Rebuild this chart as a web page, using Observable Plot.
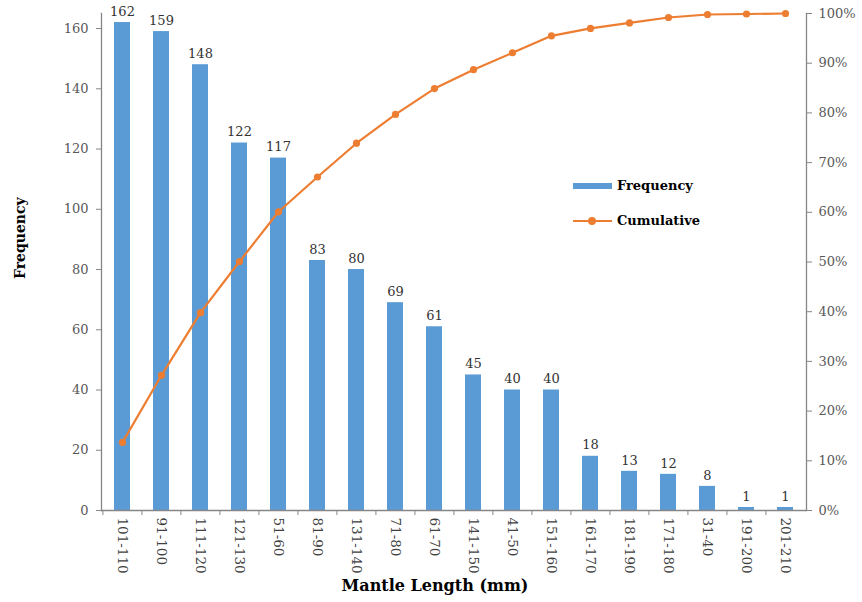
<!DOCTYPE html>
<html><head><meta charset="utf-8">
<script src="https://cdn.jsdelivr.net/npm/d3@7"></script>
<script src="https://cdn.jsdelivr.net/npm/@observablehq/plot@0.6"></script>
<style>
body{margin:0;background:#fff;font-family:"DejaVu Serif",serif}
#wrap{position:relative;width:862px;height:602px;overflow:hidden}
.leg{position:absolute;font:bold 13px "DejaVu Serif",serif;color:#000;line-height:16px}
.sw{position:absolute}
</style></head><body><div id="wrap"></div>
<script>
const categories = ["101-110","91-100","111-120","121-130","51-60","81-90","131-140","71-80","61-70","141-150","41-50","151-160","161-170","181-190","171-180","31-40","191-200","201-210"];
const frequency = [162,159,148,122,117,83,80,69,61,45,40,40,18,13,12,8,1,1];
const cumulativePct = [13.7,27.2,39.8,50.1,60.1,67.1,73.9,79.7,84.9,88.7,92.1,95.5,97.0,98.1,99.2,99.8,99.9,100];
const leftTicks = [0,20,40,60,80,100,120,140,160];
const rightTicks = [0,10,20,30,40,50,60,70,80,90,100];
const yMax = 165;

const W = 862, H = 602, mL = 101, mR = 56, mT = 13, mB = 92;
const half = (W - mL - mR) / categories.length / 2;
const data = categories.map((c, i) => ({cat: c, freq: frequency[i], cum: cumulativePct[i] * yMax / 100}));

const chart = Plot.plot({
  width: W, height: H, marginLeft: mL, marginRight: mR, marginTop: mT, marginBottom: mB,
  style: {fontFamily: "DejaVu Serif", fontSize: "13px", color: "#595959", background: "white", overflow: "visible"},
  x: {domain: categories, paddingInner: 0.6, paddingOuter: 0.3, label: null},
  y: {domain: [0, yMax], label: null},
  marks: [
    Plot.barY(data, {x: "cat", y: "freq", fill: "#5B9BD5"}),
    Plot.text(data, {x: "cat", y: "freq", text: "freq", dy: -11, fill: "#333", fontSize: 13}),
    Plot.line(data, {x: "cat", y: "cum", stroke: "#ED7D31", strokeWidth: 2.2}),
    Plot.dot(data, {x: "cat", y: "cum", fill: "#ED7D31", r: 3.6}),
    Plot.ruleY([0], {stroke: "#868686", strokeWidth: 1.3}),
    Plot.frame({anchor: "left", stroke: "#868686", strokeWidth: 1.3}),
    Plot.frame({anchor: "right", stroke: "#868686", strokeWidth: 1.3}),
    Plot.axisY(leftTicks, {anchor: "left", tickSize: 5, tickPadding: 8, label: null, stroke: "#868686"}),
    Plot.axisY(rightTicks.map(t => t * yMax / 100), {anchor: "right", tickSize: 5, tickPadding: 7, label: null,
      tickFormat: d => Math.round(d / yMax * 100) + "%", stroke: "#868686"}),
    Plot.axisX({tickSize: 5, tickFormat: () => "", dx: -half, label: null, stroke: "#868686"}),
    Plot.axisX({tickSize: 0, tickRotate: 90, tickPadding: 7, fontSize: 13.5, fill: "#404040", label: null}),
    Plot.text(["Mantle Length (mm)"], {frameAnchor: "bottom", dx: -19, dy: 80, fontWeight: "bold", fontSize: 16, fill: "#000"}),
    Plot.text(["Frequency"], {frameAnchor: "left", rotate: -90, dx: -81, dy: 17, fontWeight: "bold", fontSize: 14, fill: "#000"})
  ]
});
const wrap = document.getElementById("wrap");
wrap.appendChild(chart);

// legend
const legend = [
  {label: "Frequency", type: "bar", top: 186},
  {label: "Cumulative", type: "line", top: 221}
];
legend.forEach(l => {
  if (l.type === "bar") {
    const s = document.createElement("div");
    s.className = "sw";
    Object.assign(s.style, {left: "573px", top: (l.top - 3) + "px", width: "39px", height: "6px", background: "#5B9BD5"});
    wrap.appendChild(s);
  } else {
    const s = document.createElement("div");
    s.className = "sw";
    Object.assign(s.style, {left: "573px", top: (l.top - 1) + "px", width: "39px", height: "2px", background: "#ED7D31"});
    wrap.appendChild(s);
    const d = document.createElement("div");
    d.className = "sw";
    Object.assign(d.style, {left: "588px", top: (l.top - 4) + "px", width: "8px", height: "8px", borderRadius: "50%", background: "#ED7D31"});
    wrap.appendChild(d);
  }
  const t = document.createElement("div");
  t.className = "leg";
  t.textContent = l.label;
  Object.assign(t.style, {left: "617px", top: (l.top - 8) + "px"});
  wrap.appendChild(t);
});
</script></body></html>
